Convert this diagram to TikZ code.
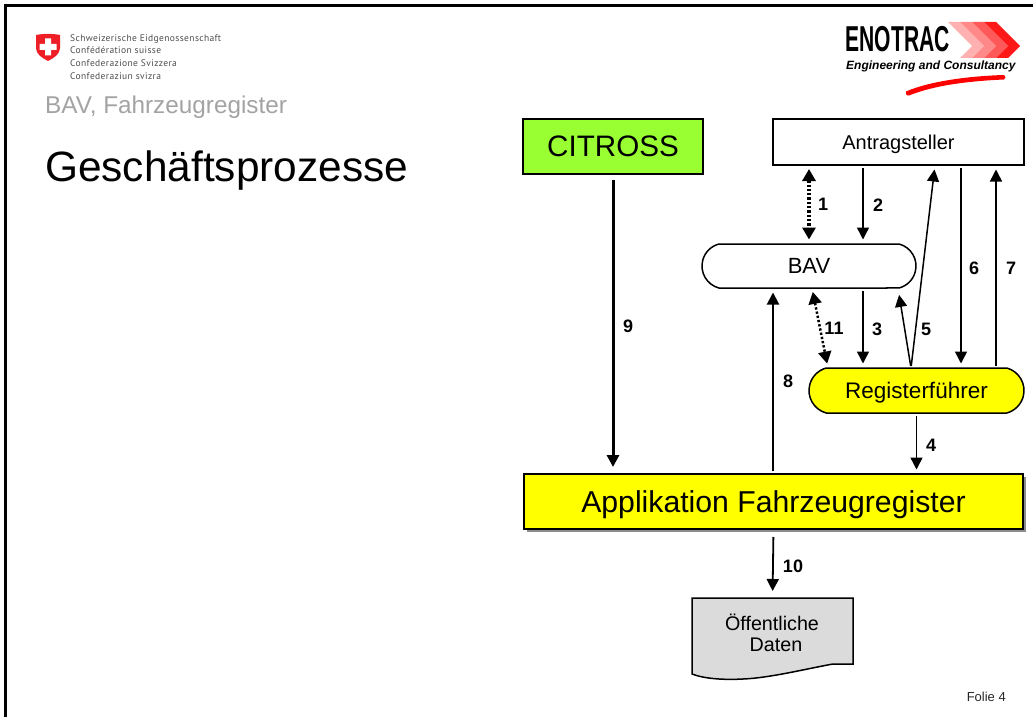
\documentclass[tikz,border=0pt]{standalone}
\usepackage{fontspec}
\setmainfont{Liberation Sans}
\newfontfamily\swissfont[LetterSpace=4]{PT Sans}
\usetikzlibrary{arrows.meta,shapes.misc,shadows}
\definecolor{citgreen}{RGB}{153,255,51}
\definecolor{swissred}{RGB}{238,30,38}
\definecolor{regyellow}{RGB}{255,255,0}
\definecolor{logored}{RGB}{255,0,0}
\newcommand{\fsz}[1]{\fontsize{#1}{#1}\selectfont}
\tikzset{%
    boxnode/.style={%
        draw, line width=1.5pt, inner sep=0pt, outer sep=0pt, text depth=0pt
    },
    roundnode/.style={%
        boxnode, shape=rounded rectangle, rounded rectangle arc length=150
    },
    numlabel/.style={%
        font=\fsz{18}\bfseries, inner sep=0pt
    },
    link/.style={%
        line width=1.5pt, -{Triangle[length=12pt,width=12pt]},
        shorten <=3pt, shorten >=4.5pt
    },
    dotlink/.style={%
        line width=3.3pt, dash pattern=on 2.3pt off 2pt,
        {Triangle[length=12pt,width=13pt]}-{Triangle[length=12pt,width=13pt]},
        shorten <=4pt, shorten >=4.5pt
    },
    swisstext/.style={%
        font=\fsz{9.5}\swissfont, text=black!70, anchor=base west, inner sep=0pt
    }
}

\begin{document}
\begin{tikzpicture}[x=1pt,y=-1pt]
    \useasboundingbox (0,0) rectangle (1033,717);
    \draw[line width=3pt] (5,717) -- (5,5.5) -- (1033,5.5);

    % federal header
    \fill[swissred] (36,35) .. controls (43,33.5) and (53,33.5) .. (60,35)
        -- (60,48) .. controls (60,54) and (54,58) .. (48,61)
        .. controls (42,58) and (36,54) .. (36,48) -- cycle;
    \fill[white] (45,38.5) rectangle (51,55.5) (39.5,44) rectangle (56.5,50);
    \node[swisstext] (fed1) at (70,41.5) {Schweizerische Eidgenossenschaft};
    \node[swisstext] (fed2) at (70,54) {Confédération suisse};
    \node[swisstext] (fed3) at (70,66.5) {Confederazione Svizzera};
    \node[swisstext] (fed4) at (70,79) {Confederaziun svizra};

    % logo
    \foreach \x/\c in {948/255 176 176,960/255 136 136,972/255 88 88,984/255 24 24} {
        \definecolor{band}{RGB}{\c}
        \fill[band] (\x,22) -- ++(12,0) -- ++(24,24) -- ++(-12,12) -- ++(-12,0)
            -- ++(12,-12) -- cycle;
    }
    \node[font=\fsz{36}\bfseries, xscale=0.585, transform shape, anchor=base west, inner sep=0pt]
        (enotrac) at (845.5,52) {ENOTRAC};
    \node[font=\fsz{12}\bfseries\itshape, anchor=base west, inner sep=0pt]
        (claim) at (846,70) {Engineering and Consultancy};
    \fill[logored] (906,91.5) .. controls (930,81) and (970,76) .. (1004,75)
        .. controls (1006,75.5) and (1006,79) .. (1004,79.5)
        .. controls (970,81) and (935,85) .. (909,95.5)
        .. controls (906,96) and (905,93) .. (906,91.5) -- cycle;

    % titles
    \node[font=\fsz{24.3}, text=black!36, anchor=base west, inner sep=0pt] (sub) at (45,113) {BAV, Fahrzeugregister};
    \node[font=\fsz{42.4}, anchor=base west, inner sep=0pt] (title) at (45,181) {Geschäftsprozesse};
    \node[font=\fsz{13}, anchor=base east, inner sep=0pt, text=black!85] (folie) at (1006,701) {Folie 4};

    % process boxes
    \node[boxnode, fill=citgreen, font=\fsz{29.6}, minimum width=180pt, minimum height=55pt]
        (citross) at (613,146.5) {CITROSS};
    \node[boxnode, font=\fsz{20}, minimum width=251pt, minimum height=46pt]
        (antrag) at (898.5,142) {Antragsteller};
    \node[roundnode, font=\fsz{22}, minimum width=214pt, minimum height=44pt]
        (bav) at (809,266) {BAV};
    \node[roundnode, fill=regyellow, font=\fsz{22.5}, minimum width=215pt, minimum height=45pt]
        (reg) at (916.5,390.5) {Registerführer};
    \node[boxnode, fill=regyellow, font=\fsz{30.2}, minimum width=499pt, minimum height=55pt,
        general shadow={fill=black!45, shadow xshift=2.5pt, shadow yshift=-2.5pt}]
        (app) at (773.5,501.5) {Applikation Fahrzeugregister};
    \node[inner sep=0pt, outer sep=0pt, minimum width=161pt, minimum height=66pt]
        (daten) at (772.5,631) {};
    \draw[line width=1.5pt, fill=black!14] (daten.north west) -- (daten.north east) -- (daten.south east)
        -- ++(-20,0) .. controls (810,668) and (770,678) .. (743,679)
        .. controls (725,680) and (705,679) .. (692,674) -- cycle;
    \node[font=\fsz{19.7}, inner sep=0pt] (daten1) at (772,622) {Öffentliche};
    \node[font=\fsz{19.7}, inner sep=0pt] (daten2) at (776,645) {Daten};

    % connectors
    \draw[dotlink] (antrag.south -| bav.north) -- (bav.north);
    \draw[link] ([xshift=-35.5pt]antrag.south) -- ([xshift=54pt]bav.north);
    \draw[link] ([xshift=54pt]bav.south) -- ([xshift=-53.5pt]reg.north);
    \draw[link] (reg.south) -- ([xshift=143pt]app.north);
    \draw[link, shorten <=2pt] ([xshift=-5.5pt]reg.north) -- ([xshift=36.5pt]antrag.south);
    \draw[link, shorten <=2pt, shorten >=7pt] ([xshift=-5.5pt]reg.north) -- ([xshift=89pt]bav.south);
    \draw[link] ([xshift=62.5pt]antrag.south) -- ([xshift=44.5pt]reg.north);
    \draw[link, shorten <=2pt] ([xshift=79.5pt]reg.north) -- ([xshift=97.5pt]antrag.south);
    \draw[link, line width=2pt] ([xshift=-0.5pt]app.north) -- ([xshift=-36pt]bav.south);
    \draw[link, line width=3pt, shorten <=6pt, shorten >=7pt] (citross.south) -- (app.north -| citross.south);
    \draw[link, line width=1.8pt, shorten <=8pt, shorten >=7pt] (app.south) -- (daten.north);
    \draw[dotlink, line width=2.5pt] ([xshift=3pt]bav.south) -- ([xshift=-88.5pt]reg.north);

    % numbers
    \node[numlabel] (n1) at (823,204) {1};
    \node[numlabel] (n2) at (878,205) {2};
    \node[numlabel] (n3) at (877,329) {3};
    \node[numlabel] (n4) at (931,445) {4};
    \node[numlabel] (n5) at (926,329) {5};
    \node[numlabel] (n6) at (974,268) {6};
    \node[numlabel] (n7) at (1011,268) {7};
    \node[numlabel] (n8) at (788,381) {8};
    \node[numlabel] (n9) at (628,326) {9};
    \node[numlabel] (n10) at (793,566) {10};
    \node[numlabel] (n11) at (834,328) {11};
\end{tikzpicture}
\end{document}
